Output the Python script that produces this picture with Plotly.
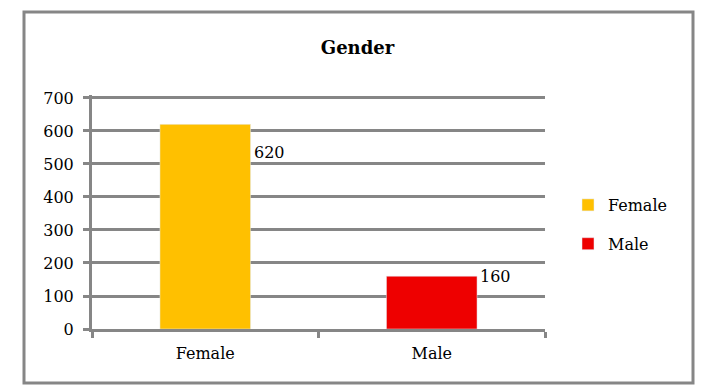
import plotly.graph_objects as go

categories = ["Female", "Male"]
counts = [620, 160]
colors = ["#FFC000", "#EE0000"]
y_ticks = [0, 100, 200, 300, 400, 500, 600, 700]
title_text = "Gender"

BAR_W = 0.4
GRAY = "#868686"
FONT = "DejaVu Serif"
label_yshift = [-28, 0]
Y_MAX = 709

fig = go.Figure()
for i, (c, v) in enumerate(zip(categories, counts)):
    fig.add_trace(go.Bar(x=[c], y=[v], name=c, marker_color=colors[i],
                         width=BAR_W, legendgroup=c, showlegend=True))
    fig.add_annotation(x=i + BAR_W / 2, y=v, xref="x", yref="y", text=str(v),
                       showarrow=False, xanchor="left", yanchor="middle",
                       xshift=1, yshift=label_yshift[i],
                       font=dict(family=FONT, size=16, color="black"))

W, H = 715, 386
L, R, T, B = 92, 545, 95, 329
pw, ph = R - L, B - T

def px_x(p):
    return (p - L) / pw

def px_y(p):
    return (B - p) / ph

fig.add_shape(type="rect", xref="paper", yref="paper",
              x0=px_x(24), x1=px_x(693), y0=px_y(383), y1=px_y(12),
              line=dict(color=GRAY, width=3), fillcolor="rgba(0,0,0,0)", layer="below")

fig.update_layout(
    width=W, height=H,
    margin=dict(l=L, r=W - R, t=T, b=H - B, pad=0),
    plot_bgcolor="white", paper_bgcolor="white",
    barmode="overlay",
    font=dict(family=FONT, size=16, color="black"),
    title=dict(text="<b>" + title_text + "</b>", x=0.5, xref="container", xanchor="center",
               y=1 - 48 / H, yref="container", yanchor="middle",
               font=dict(family=FONT, size=18, color="black")),
    legend=dict(x=px_x(568), y=px_y(188), xanchor="left", yanchor="top",
                font=dict(family=FONT, size=16, color="black"),
                tracegroupgap=15, itemwidth=30, bgcolor="rgba(0,0,0,0)"),
    showlegend=True,
)
fig.update_xaxes(type="category", showline=True, linecolor=GRAY, linewidth=3,
                 ticks="outside", tickson="boundaries", ticklen=6, tickwidth=3,
                 tickcolor=GRAY, showgrid=False, zeroline=False, ticklabelstandoff=8,
                 tickfont=dict(family=FONT, size=16, color="black"))
fig.update_yaxes(range=[0, Y_MAX], tickvals=y_ticks, showgrid=True, gridcolor=GRAY,
                 gridwidth=3, showline=True, linecolor=GRAY, linewidth=3,
                 ticks="outside", ticklen=6, tickwidth=3, tickcolor=GRAY,
                 zeroline=False, ticklabelstandoff=6,
                 tickfont=dict(family=FONT, size=16, color="black"))

fig.write_html("out.html", config={"displayModeBar": False},
               post_script="document.body.style.margin='0';")
